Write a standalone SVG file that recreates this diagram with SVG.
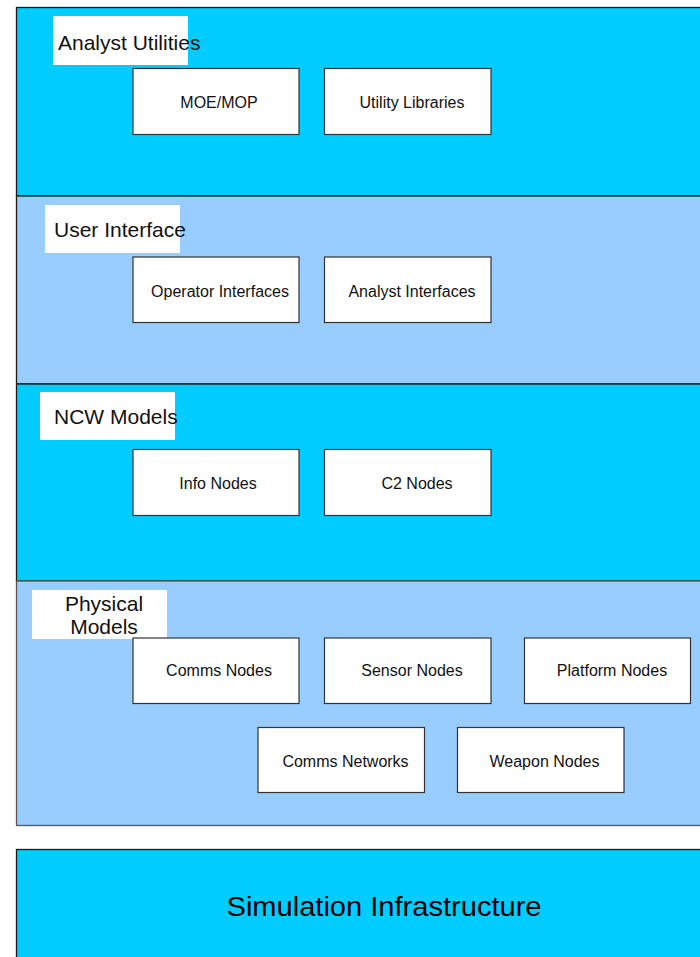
<svg xmlns="http://www.w3.org/2000/svg" width="700" height="957" viewBox="0 0 700 957">
  <style>
    .layer-a { fill: #00CCFF; stroke: #1a1a1a; stroke-width: 1.3; }
    .layer-b { fill: #99CCFF; stroke: #1a1a1a; stroke-width: 1.3; }
    .tag { fill: #ffffff; stroke: none; }
    .box { fill: #ffffff; stroke: #333333; stroke-width: 1.2; }
    .title { font-family: "Liberation Sans", Arial, sans-serif; font-size: 21px; fill: #111111; }
    .label { font-family: "Liberation Sans", Arial, sans-serif; font-size: 16px; fill: #111111; text-anchor: middle; }
    .big { font-family: "Liberation Sans", Arial, sans-serif; font-size: 27px; fill: #000000; text-anchor: middle; }
  </style>

  <!-- Layer bands -->
  <g id="layer-analyst-utilities">
    <rect class="layer-a" x="16.5" y="7.5" width="700" height="188.5"/>
    <rect class="tag" x="53" y="16" width="135" height="49"/>
    <text class="title" x="58" y="50">Analyst Utilities</text>
  </g>
  <g id="layer-user-interface">
    <rect class="layer-b" x="16.5" y="196" width="700" height="188"/>
    <rect class="tag" x="45" y="205" width="135" height="48"/>
    <text class="title" x="54" y="237">User Interface</text>
  </g>
  <g id="layer-ncw-models">
    <rect class="layer-a" x="16.5" y="384" width="700" height="197"/>
    <rect class="tag" x="40" y="392" width="135" height="48"/>
    <text class="title" x="54" y="424">NCW Models</text>
  </g>
  <g id="layer-physical-models">
    <rect class="layer-b" x="16.5" y="581" width="700" height="244.5" style="stroke:#555555"/>
    <rect class="tag" x="32" y="590" width="135" height="49"/>
    <text class="title" x="104" y="611" text-anchor="middle">Physical</text>
    <text class="title" x="104" y="634" text-anchor="middle">Models</text>
  </g>
  <g id="layer-simulation-infrastructure">
    <rect class="layer-a" x="16.5" y="849.5" width="700" height="120"/>
    <text class="big" x="384" y="916" textLength="315" lengthAdjust="spacingAndGlyphs">Simulation Infrastructure</text>
  </g>

  <!-- Component boxes -->
  <g id="node-moe-mop">
    <rect class="box" x="133" y="68.5" width="166" height="66"/>
    <text class="label" x="219" y="108">MOE/MOP</text>
  </g>
  <g id="node-utility-libraries">
    <rect class="box" x="324.5" y="68.5" width="166.5" height="66"/>
    <text class="label" x="412" y="108">Utility Libraries</text>
  </g>
  <g id="node-operator-interfaces">
    <rect class="box" x="133" y="257" width="166" height="65.5"/>
    <text class="label" x="220" y="297">Operator Interfaces</text>
  </g>
  <g id="node-analyst-interfaces">
    <rect class="box" x="324.5" y="257" width="166.5" height="65.5"/>
    <text class="label" x="412" y="297">Analyst Interfaces</text>
  </g>
  <g id="node-info-nodes">
    <rect class="box" x="133" y="449.5" width="166" height="66"/>
    <text class="label" x="218" y="489">Info Nodes</text>
  </g>
  <g id="node-c2-nodes">
    <rect class="box" x="324.5" y="449.5" width="166.5" height="66"/>
    <text class="label" x="417" y="489">C2 Nodes</text>
  </g>
  <g id="node-comms-nodes">
    <rect class="box" x="133" y="638" width="166" height="65.5"/>
    <text class="label" x="219" y="676">Comms Nodes</text>
  </g>
  <g id="node-sensor-nodes">
    <rect class="box" x="324.5" y="638" width="166.5" height="65.5"/>
    <text class="label" x="412" y="676">Sensor Nodes</text>
  </g>
  <g id="node-platform-nodes">
    <rect class="box" x="524.5" y="638" width="166" height="65.5"/>
    <text class="label" x="612" y="676">Platform Nodes</text>
  </g>
  <g id="node-comms-networks">
    <rect class="box" x="258" y="727.5" width="166.5" height="65"/>
    <text class="label" x="345.5" y="767">Comms Networks</text>
  </g>
  <g id="node-weapon-nodes">
    <rect class="box" x="457.5" y="727.5" width="166.5" height="65"/>
    <text class="label" x="544.5" y="767">Weapon Nodes</text>
  </g>

  <!-- No connectors in this layered view -->
  <g id="connectors"></g>
</svg>
